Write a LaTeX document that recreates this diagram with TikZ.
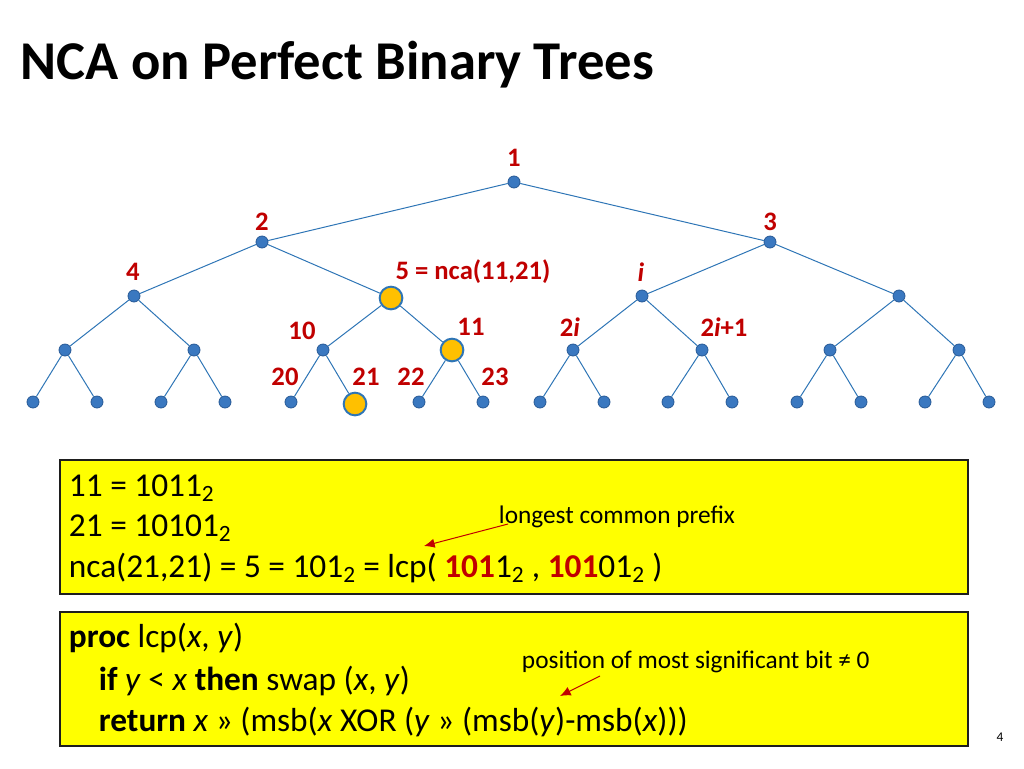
\documentclass[tikz,border=0pt]{standalone}
\usepackage{fontspec}
\setmainfont{Carlito}
\definecolor{nodeblue}{RGB}{58,120,192}
\definecolor{edgeblue}{RGB}{46,117,182}
\definecolor{numred}{RGB}{192,0,0}
\definecolor{hlyellow}{RGB}{255,192,0}
\definecolor{boxyellow}{RGB}{255,255,0}
\tikzset{every picture/.style={line width=0.75pt}}
\tikzset{
	tnode/.style={circle,fill=nodeblue,draw={rgb,255:red,40;green,90;blue,150},line width=0.6pt,inner sep=0pt,minimum size=9pt},
	hnode/.style={circle,fill=hlyellow,draw=edgeblue,line width=1.5pt,inner sep=0pt,minimum size=17pt},
	tlabel/.style={text=numred,font=\bfseries\fontsize{20}{24}\selectfont},
	codebox/.style={draw={rgb,255:red,30;green,30;blue,30},line width=1.5pt,fill=boxyellow},
	codeline/.style={anchor=west,font=\fontsize{25}{30}\selectfont},
	note/.style={font=\fontsize{19}{22}\selectfont},
	notearrow/.style={draw=numred,line width=0.75pt,-{Latex[length=8pt,width=7pt]}}}
\usetikzlibrary{arrows.meta}
\newcommand{\shr}{\textgreater\textgreater}
\begin{document}
\begin{tikzpicture}[x=0.75pt,y=0.75pt,yscale=-1,xscale=1]
	\useasboundingbox (0,0) rectangle (1024,768);

	% Title
	\node[anchor=west,font=\bfseries\fontsize{41}{48}\selectfont] (title) at (16,65) {NCA on Perfect Binary Trees};

	% Tree nodes
	\node[tnode] (n1) at (514,182) {};
	\node[tnode] (n2) at (262,242) {};
	\node[tnode] (n3) at (770,242) {};
	\foreach \i/\x in {4/134,6/642,7/899}
		\node[tnode] (n\i) at (\x,296) {};
	\node[hnode] (n5) at (391,298) {};
	\foreach \i/\x in {8/65,9/194,10/323,12/573,13/702,14/830,15/959}
		\node[tnode] (n\i) at (\x,350) {};
	\node[hnode] (n11) at (452,350) {};
	\foreach \i/\x in {16/33,17/97,18/161,19/225,20/291,22/419,23/483,24/540,25/604,26/668,27/732,28/797,29/861,30/925,31/989}
		\node[tnode] (n\i) at (\x,402) {};
	\node[hnode] (n21) at (355,404) {};

	% Edges
	\foreach \p in {1,...,15}{
		\pgfmathtruncatemacro{\l}{2*\p}
		\pgfmathtruncatemacro{\r}{2*\p+1}
		\draw[edgeblue,line width=0.75pt] (n\p) -- (n\l);
		\draw[edgeblue,line width=0.75pt] (n\p) -- (n\r);
	}

	% Text Node
	\node[tlabel] (l1) at (514,158) {1};
	\node[tlabel] (l2) at (262,222) {2};
	\node[tlabel] (l3) at (770,222) {3};
	\node[tlabel] (l4) at (133,272) {4};
	\node[tlabel] (l5) at (473,272) {5 = nca(11,21)};
	\node[tlabel] (li) at (641,272) {\itshape i};
	\node[tlabel] (l10) at (302,331) {10};
	\node[tlabel] (l11) at (471,327) {11};
	\node[tlabel] (l2i) at (570,327) {2\textit{i}};
	\node[tlabel] (l2i1) at (724,327) {2\textit{i}+1};
	\node[tlabel] (l20) at (285,377) {20};
	\node[tlabel] (l21) at (366,377) {21};
	\node[tlabel] (l22) at (411,377) {22};
	\node[tlabel] (l23) at (495,377) {23};

	% Box with the example
	\draw[codebox] (60,460) rectangle (968,594);
	\node[codeline] (b1) at (64,488) {11 = 1011\textsubscript{2}};
	\node[codeline] (b2) at (64,528) {21 = 10101\textsubscript{2}};
	\node[codeline] (b3) at (64,568) {nca(21,21) = 5 = 101\textsubscript{2} = lcp( \textcolor{numred}{\bfseries 101}1\textsubscript{2} , \textcolor{numred}{\bfseries 101}01\textsubscript{2} )};
	\node[note,anchor=west] (lcpnote) at (494,517) {longest common prefix};
	\coordinate (lcptip) at (424,546);
	\draw[notearrow] (508,524) -- (lcptip);

	% Box with the procedure
	\draw[codebox] (60,612) rectangle (968,746);
	\node[codeline] (p1) at (64,638) {\textbf{proc} lcp(\textit{x}, \textit{y})};
	\node[codeline] (p2) at (94,681) {\textbf{if} \textit{y} < \textit{x} \textbf{then} swap (\textit{x}, \textit{y})};
	\node[codeline] (p3) at (94,722) {\textbf{return} \textit{x} \shr{} (msb(\textit{x} XOR (\textit{y} \shr{} (msb(\textit{y})-msb(\textit{x})))};
	\node[note,anchor=west] (msbnote) at (517,662) {position of most significant bit ≠ 0};
	\coordinate (msbtip) at (560,696);
	\draw[notearrow] (600,676) -- (msbtip);

	% Page number
	\node[font=\fontsize{10}{12}\selectfont] (page) at (1000,737) {4};
\end{tikzpicture}
\end{document}
